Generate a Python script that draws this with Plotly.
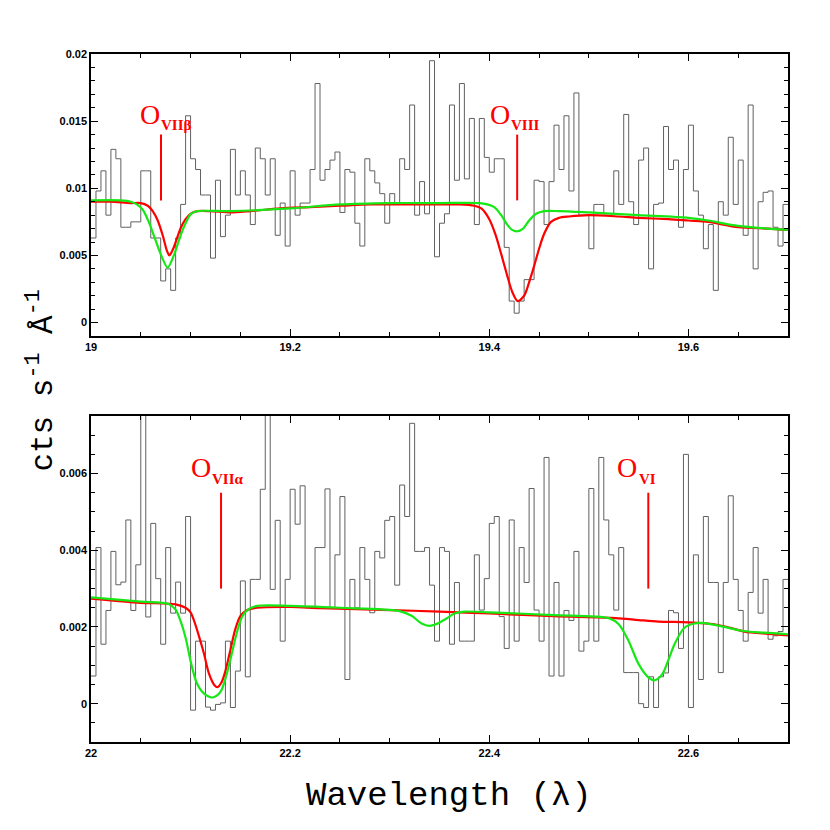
import numpy as np
import plotly.graph_objects as go

BIN = 0.005  # spectral bin width (Angstrom)

# ---- upper panel: 19.0 - 19.7 A -------------------------------------------
top_start = 19.0
top_counts = [
    0.0063, 0.0098, 0.0113, 0.0080, 0.0129, 0.0122, 0.0071, 0.0071, 0.0075, 0.0075,
    0.0113, 0.0113, 0.0063, 0.0063, 0.0031, 0.0040, 0.0024, 0.0063, 0.0088, 0.0154,
    0.0122, 0.0114, 0.0095, 0.0095, 0.0048, 0.0106, 0.0064, 0.0080, 0.0129, 0.0095,
    0.0113, 0.0095, 0.0073, 0.0130, 0.0122, 0.0095, 0.0122, 0.0065, 0.0089, 0.0057,
    0.0113, 0.0080, 0.0089, 0.0089, 0.0114, 0.0178, 0.0106, 0.0114, 0.0121, 0.0127,
    0.0082, 0.0114, 0.0112, 0.0074, 0.0057, 0.0122, 0.0113, 0.0104, 0.0096, 0.0074,
    0.0096, 0.0088, 0.0122, 0.0114, 0.0162, 0.0080, 0.0105, 0.0081, 0.0195, 0.0049,
    0.0074, 0.0081, 0.0162, 0.0106, 0.0178, 0.0107, 0.0152, 0.0073, 0.0152, 0.0123,
    0.0112, 0.0122, 0.0122, 0.0056, 0.0016, 0.0007, 0.0016, 0.0032, 0.0032, 0.0106,
    0.0105, 0.0073, 0.0105, 0.0147, 0.0114, 0.0154, 0.0098, 0.0171, 0.0080, 0.0080,
    0.0055, 0.0088, 0.0088, 0.0081, 0.0081, 0.0113, 0.0088, 0.0155, 0.0090, 0.0073,
    0.0121, 0.0130, 0.0040, 0.0088, 0.0089, 0.0146, 0.0114, 0.0121, 0.0071, 0.0114,
    0.0147, 0.0098, 0.0080, 0.0055, 0.0073, 0.0024, 0.0090, 0.0080, 0.0138, 0.0088,
    0.0121, 0.0065, 0.0162, 0.0040, 0.0090, 0.0097, 0.0098, 0.0071, 0.0057, 0.0088,
]

top_red_wl = [
    19.000, 19.020, 19.040, 19.050, 19.057, 19.062, 19.067, 19.072, 19.076, 19.0787,
    19.082, 19.086, 19.0904, 19.095, 19.100, 19.107, 19.120, 19.140, 19.160, 19.190,
    19.220, 19.250, 19.280, 19.310, 19.340, 19.370, 19.385, 19.392, 19.400, 19.406,
    19.412, 19.418, 19.423, 19.4285, 19.435, 19.440, 19.445, 19.450, 19.455, 19.462,
    19.470, 19.480, 19.500, 19.530, 19.550, 19.580, 19.600, 19.620, 19.650, 19.680,
    19.700,
]
top_red_flux = [
    0.0090, 0.0090, 0.0089, 0.0089, 0.0087, 0.0083, 0.0076, 0.0065, 0.0054, 0.0050,
    0.0054, 0.0062, 0.0071, 0.0077, 0.0081, 0.0083, 0.0083, 0.0082, 0.0083, 0.0085,
    0.0086, 0.0087, 0.0088, 0.0088, 0.0088, 0.0088, 0.0087, 0.0085, 0.0077, 0.0066,
    0.0051, 0.0035, 0.0023, 0.0016, 0.0020, 0.0030, 0.0042, 0.0055, 0.0066, 0.0075,
    0.0078, 0.0079, 0.0080, 0.0079, 0.0078, 0.0077, 0.0076, 0.0075, 0.0071, 0.0070,
    0.0069,
]

top_green_wl = [
    19.000, 19.030, 19.040, 19.046, 19.052, 19.058, 19.064, 19.070, 19.077, 19.0837,
    19.090, 19.095, 19.1004, 19.107, 19.140, 19.200, 19.250, 19.300, 19.350, 19.390,
    19.398, 19.405, 19.412, 19.418, 19.423, 19.428, 19.434, 19.440, 19.447, 19.455,
    19.470, 19.500, 19.550, 19.600, 19.620, 19.650, 19.700,
]
top_green_flux = [
    0.0091, 0.0091, 0.0090, 0.0088, 0.0084, 0.0075, 0.0063, 0.0051, 0.0041, 0.0051,
    0.0065, 0.0074, 0.0081, 0.0083, 0.0083, 0.0085, 0.0088, 0.0089, 0.0089, 0.0089,
    0.0088, 0.0086, 0.0080, 0.0073, 0.0069, 0.0068, 0.0070, 0.0076, 0.0081, 0.0083,
    0.0083, 0.0082, 0.0080, 0.0078, 0.0076, 0.0072, 0.0069,
]

# ---- lower panel: 22.0 - 22.7 A -------------------------------------------
bot_start = 22.0
bot_counts = [
    0.00072, 0.00407, 0.00155, 0.00243, 0.00397, 0.00310, 0.00317, 0.00479, 0.00243, 0.00362,
    0.00850, 0.00226, 0.00470, 0.00326, 0.00155, 0.00407, 0.00236, 0.00317, 0.00236, 0.00488,
    -0.00017, 0.00163, 0.00163, -0.00009, -0.00017, -0.00002, 0.00002, 0.00163, -0.00010, 0.00085,
    0.00320, 0.00070, 0.00324, 0.00324, 0.00559, 0.00850, 0.00298, 0.00478, 0.00163, 0.00324,
    0.00559, 0.00468, 0.00568, 0.00250, 0.00250, 0.00407, 0.00407, 0.00560, 0.00250, 0.00388,
    0.00540, 0.00063, 0.00324, 0.00250, 0.00407, 0.00324, 0.00237, 0.00397, 0.00380, 0.00478,
    0.00488, 0.00309, 0.00570, 0.00488, 0.00731, 0.00397, 0.00397, 0.00407, 0.00309, 0.00163,
    0.00407, 0.00397, 0.00155, 0.00316, 0.00163, 0.00163, 0.00163, 0.00388, 0.00244, 0.00326,
    0.00470, 0.00488, 0.00227, 0.00144, 0.00479, 0.00163, 0.00407, 0.00316, 0.00561, 0.00244,
    0.00163, 0.00642, 0.00072, 0.00316, 0.00072, 0.00243, 0.00217, 0.00397, 0.00137, 0.00163,
    0.00561, 0.00163, 0.00642, 0.00479, 0.00388, 0.00244, 0.00407, 0.00081, 0.00081, 0.00081,
    0.00000, -0.00010, 0.00070, -0.00010, 0.00070, 0.00080, 0.00243, 0.00237, 0.00144, 0.00650,
    -0.00010, 0.00388, 0.00063, 0.00488, 0.00316, 0.00316, 0.00081, 0.00316, 0.00542, 0.00324,
    0.00243, 0.00163, 0.00290, 0.00407, 0.00236, 0.00324, 0.00168, 0.00177, 0.00188, 0.00324,
]

bot_red_wl = [
    22.000, 22.050, 22.085, 22.095, 22.100, 22.105, 22.110, 22.1135, 22.1185, 22.124,
    22.127, 22.131, 22.135, 22.140, 22.145, 22.150, 22.157, 22.167, 22.200, 22.230,
    22.300, 22.350, 22.400, 22.465, 22.527, 22.550, 22.570, 22.600, 22.626, 22.643,
    22.656, 22.680, 22.700,
]
bot_red_flux = [
    0.00274, 0.00263, 0.00259, 0.00250, 0.00238, 0.00205, 0.00162, 0.00130, 0.00078, 0.00048,
    0.00043, 0.00055, 0.00085, 0.00140, 0.00195, 0.00228, 0.00244, 0.00250, 0.00252, 0.00249,
    0.00244, 0.00240, 0.00235, 0.00228, 0.00223, 0.00218, 0.00214, 0.00212, 0.00207, 0.00197,
    0.00188, 0.00182, 0.00178,
]

bot_green_wl = [
    22.000, 22.050, 22.078, 22.085, 22.090, 22.095, 22.101, 22.106, 22.111, 22.117,
    22.122, 22.127, 22.131, 22.135, 22.140, 22.147, 22.152, 22.158, 22.167, 22.200,
    22.250, 22.309, 22.322, 22.332, 22.340, 22.349, 22.357, 22.365, 22.375, 22.400,
    22.465, 22.520, 22.530, 22.540, 22.550, 22.560, 22.566, 22.5738, 22.5805, 22.586,
    22.596, 22.606, 22.616, 22.636, 22.653, 22.676, 22.700,
]
bot_green_flux = [
    0.00277, 0.00266, 0.00260, 0.00245, 0.00215, 0.00172, 0.00100, 0.00055, 0.00033, 0.00020,
    0.00016, 0.00022, 0.00035, 0.00065, 0.00115, 0.00190, 0.00228, 0.00246, 0.00255, 0.00255,
    0.00250, 0.00242, 0.00229, 0.00209, 0.00203, 0.00210, 0.00222, 0.00235, 0.00240, 0.00238,
    0.00231, 0.00223, 0.00207, 0.00163, 0.00103, 0.00068, 0.00061, 0.00077, 0.00118, 0.00155,
    0.00198, 0.00209, 0.00210, 0.00200, 0.00190, 0.00185, 0.00181,
]

# ---- line identifications ---------------------------------------------------
top_ions = ["VII\u03b2", "VIII"]
top_line_wl = [19.0703, 19.4280]
top_tick_lo, top_tick_hi = 0.0091, 0.0140
top_label_wl = [19.0588, 19.4103]

bot_ions = ["VII\u03b1", "VI"]
bot_line_wl = [22.1306, 22.5597]
bot_tick_lo, bot_tick_hi = 0.0030, 0.0055
bot_label_wl = [22.1100, 22.5383]

RED = "#ff0000"
GREEN = "#16e816"
HIST = "#606060"


def step_xy(start, counts):
    edges = start + BIN * np.arange(len(counts) + 1)
    return edges, list(counts) + [counts[-1]]


fig = go.Figure()


def add_panel(xa, ya, start, counts, rwl, rfl, gwl, gfl):
    ex, ey = step_xy(start, counts)
    fig.add_trace(go.Scatter(x=ex, y=ey, mode="lines", line_shape="hv",
                             line=dict(color=HIST, width=1), xaxis=xa, yaxis=ya,
                             showlegend=False, hoverinfo="skip"))
    fig.add_trace(go.Scatter(x=rwl, y=rfl, mode="lines", line_shape="spline",
                             line=dict(color=RED, width=2.2, smoothing=0.8),
                             xaxis=xa, yaxis=ya, showlegend=False))
    fig.add_trace(go.Scatter(x=gwl, y=gfl, mode="lines", line_shape="spline",
                             line=dict(color=GREEN, width=2.2, smoothing=0.8),
                             xaxis=xa, yaxis=ya, showlegend=False))


add_panel("x", "y", top_start, top_counts, top_red_wl, top_red_flux,
          top_green_wl, top_green_flux)
add_panel("x2", "y2", bot_start, bot_counts, bot_red_wl, bot_red_flux,
          bot_green_wl, bot_green_flux)

# red identification ticks
for xa, ya, wls, lo, hi in [("x", "y", top_line_wl, top_tick_lo, top_tick_hi),
                            ("x2", "y2", bot_line_wl, bot_tick_lo, bot_tick_hi)]:
    for wl in wls:
        fig.add_trace(go.Scatter(x=[wl, wl], y=[lo, hi], mode="lines",
                                 line=dict(color=RED, width=2), xaxis=xa, yaxis=ya,
                                 showlegend=False, hoverinfo="skip"))

annotations = []
label_sets = [
    ("x", "y", top_ions, top_label_wl, 0.01552, 0.01472),
    ("x2", "y2", bot_ions, bot_label_wl, 0.00616, 0.00587),
]
for xa, ya, ions, wls, y_o, y_sub in label_sets:
    for ion, wl in zip(ions, wls):
        annotations.append(dict(x=wl, y=y_o, xref=xa, yref=ya, text="O",
                                showarrow=False, xanchor="center", yanchor="middle",
                                font=dict(family="Liberation Serif", size=28, color=RED)))
        annotations.append(dict(x=wl + 0.0098, y=y_sub, xref=xa, yref=ya,
                                text="<b>%s</b>" % ion, showarrow=False,
                                xanchor="left", yanchor="middle",
                                font=dict(family="Liberation Serif", size=15, color=RED)))

annotations.append(dict(x=-0.072, y=0.525, xref="paper", yref="paper",
                        xanchor="center", yanchor="middle",
                        text="cts s<sup>-1</sup> \u00c5<sup>-1</sup>", textangle=-90,
                        showarrow=False,
                        font=dict(family="Liberation Mono", size=31, color="black")))
annotations.append(dict(x=0.514, y=-0.079, xref="paper", yref="paper",
                        xanchor="center", yanchor="middle",
                        text="Wavelength (\u03bb)", showarrow=False,
                        font=dict(family="Liberation Mono", size=34, color="black")))

tickfont = dict(family="Liberation Sans", size=11, color="black", weight="bold")
axis_common = dict(showline=True, linecolor="black", linewidth=1.5, mirror="allticks",
                   ticks="inside", ticklen=7, tickwidth=1.2, tickcolor="black",
                   showgrid=False, zeroline=False, tickfont=tickfont)

fig.update_layout(
    width=830, height=830,
    # the page body adds an 8 px offset, so the margins are trimmed to match
    margin=dict(l=83, r=50, t=46, b=96),
    paper_bgcolor="white", plot_bgcolor="white",
    xaxis=dict(domain=[0, 1], anchor="y", range=[19.0, 19.7], tick0=19.0, dtick=0.2,
               minor=dict(dtick=0.05, ticks="inside", ticklen=4, tickcolor="black"),
               **axis_common),
    yaxis=dict(domain=[0.5901, 1.0], anchor="x", range=[-0.001, 0.02], tick0=0,
               dtick=0.005,
               minor=dict(dtick=0.001, ticks="inside", ticklen=4, tickcolor="black"),
               **axis_common),
    xaxis2=dict(domain=[0, 1], anchor="y2", range=[22.0, 22.7], tick0=22.0, dtick=0.2,
                minor=dict(dtick=0.05, ticks="inside", ticklen=4, tickcolor="black"),
                **axis_common),
    yaxis2=dict(domain=[0.0, 0.4738], anchor="x2", range=[-0.001, 0.0075], tick0=0,
                dtick=0.002,
                minor=dict(dtick=0.0005, ticks="inside", ticklen=4, tickcolor="black"),
                **axis_common),
    annotations=annotations,
)

fig.write_html("out.html")
